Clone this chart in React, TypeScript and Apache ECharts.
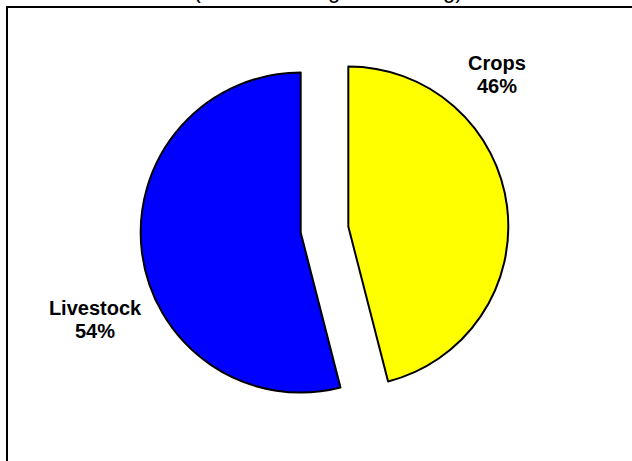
import React, { useEffect, useRef } from "react";
import * as echarts from "echarts";

const titleText = "(% Share in Agri Marketing)";
const categories = ["Crops", "Livestock"];
const shares = [46, 54];
const sliceColors = ["#FFFF00", "#0000FF"];

export default function App() {
  const ref = useRef<HTMLDivElement>(null);
  useEffect(() => {
    if (!ref.current) return;
    const chart = echarts.init(ref.current, undefined, { renderer: "svg" });
    const total = shares.reduce((a, b) => a + b, 0);
    const labelPos = [
      { x: 497, y: 74 },
      { x: 95, y: 319 },
    ];
    const labelFont = "bold 20px 'Liberation Sans', Arial, sans-serif";
    chart.setOption({
      animation: false,
      backgroundColor: "#ffffff",
      graphic: [
        {
          type: "rect",
          shape: { x: 7, y: 7, width: 700, height: 600 },
          style: { fill: "none", stroke: "#000", lineWidth: 2 },
          silent: true,
        },
        {
          type: "text",
          x: 328,
          y: -10,
          style: {
            text: titleText,
            fill: "#000",
            font: "22px 'Liberation Sans', Arial, sans-serif",
            align: "center",
            verticalAlign: "middle",
          },
          silent: true,
        },
        ...categories.map((c, i) => ({
          type: "text",
          x: labelPos[i].x,
          y: labelPos[i].y,
          style: {
            text: `${c}\n${Math.round((shares[i] / total) * 100)}%`,
            fill: "#000",
            font: labelFont,
            lineHeight: 23,
            align: "center",
            verticalAlign: "middle",
          },
          silent: true,
        })),
      ],
      series: [
        {
          type: "pie",
          center: [324.5, 229.5],
          radius: 160,
          startAngle: 90,
          clockwise: true,
          selectedMode: "multiple",
          selectedOffset: 24,
          itemStyle: { borderColor: "#000", borderWidth: 2 },
          emphasis: { disabled: true },
          label: { show: false },
          labelLine: { show: false },
          data: categories.map((c, i) => ({
            name: c,
            value: shares[i],
            selected: true,
            itemStyle: { color: sliceColors[i] },
          })),
        },
      ],
    });
    return () => chart.dispose();
  }, []);
  return (
    <div
      ref={ref}
      style={{ position: "fixed", left: 0, top: 0, width: 632, height: 461 }}
    />
  );
}
